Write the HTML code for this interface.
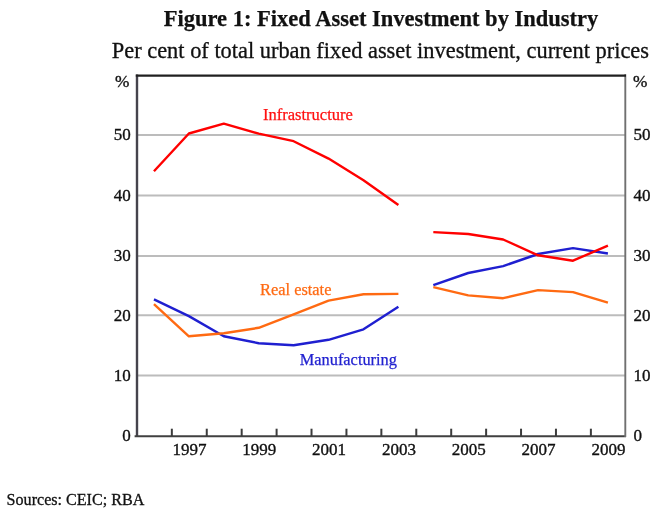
<!DOCTYPE html>
<html><head><meta charset="utf-8"><title>Figure 1: Fixed Asset Investment by Industry</title>
<style>
html,body{margin:0;padding:0;background:#fff;}
body{width:665px;height:516px;overflow:hidden;font-family:"Liberation Serif",serif;}
svg{display:block;filter:blur(0.45px);}
</style></head><body>
<svg width="665" height="516" viewBox="0 0 665 516">
<line x1="137" y1="134.9" x2="625" y2="134.9" stroke="#bcbcbc" stroke-width="2"/>
<line x1="137" y1="195.4" x2="625" y2="195.4" stroke="#bcbcbc" stroke-width="2"/>
<line x1="137" y1="255.9" x2="625" y2="255.9" stroke="#bcbcbc" stroke-width="2"/>
<line x1="137" y1="315.2" x2="625" y2="315.2" stroke="#bcbcbc" stroke-width="2"/>
<line x1="137" y1="375.6" x2="625" y2="375.6" stroke="#bcbcbc" stroke-width="2"/>
<line x1="137" y1="74.5" x2="137" y2="437" stroke="#45434c" stroke-width="2.4"/>
<line x1="134.6" y1="436.2" x2="626" y2="436.2" stroke="#404040" stroke-width="2.1"/>
<line x1="625.3" y1="74.3" x2="625.3" y2="437" stroke="#707070" stroke-width="1.9"/>
<line x1="135.8" y1="75.6" x2="626" y2="75.6" stroke="#202020" stroke-width="2.2"/>
<line x1="171.84" y1="428.7" x2="171.84" y2="436" stroke="#3c3c3c" stroke-width="2"/>
<line x1="206.76" y1="428.7" x2="206.76" y2="436" stroke="#3c3c3c" stroke-width="2"/>
<line x1="241.68" y1="428.7" x2="241.68" y2="436" stroke="#3c3c3c" stroke-width="2"/>
<line x1="276.60" y1="428.7" x2="276.60" y2="436" stroke="#3c3c3c" stroke-width="2"/>
<line x1="311.52" y1="428.7" x2="311.52" y2="436" stroke="#3c3c3c" stroke-width="2"/>
<line x1="346.44" y1="428.7" x2="346.44" y2="436" stroke="#3c3c3c" stroke-width="2"/>
<line x1="381.36" y1="428.7" x2="381.36" y2="436" stroke="#3c3c3c" stroke-width="2"/>
<line x1="416.28" y1="428.7" x2="416.28" y2="436" stroke="#3c3c3c" stroke-width="2"/>
<line x1="451.20" y1="428.7" x2="451.20" y2="436" stroke="#3c3c3c" stroke-width="2"/>
<line x1="486.12" y1="428.7" x2="486.12" y2="436" stroke="#3c3c3c" stroke-width="2"/>
<line x1="521.04" y1="428.7" x2="521.04" y2="436" stroke="#3c3c3c" stroke-width="2"/>
<line x1="555.96" y1="428.7" x2="555.96" y2="436" stroke="#3c3c3c" stroke-width="2"/>
<line x1="590.88" y1="428.7" x2="590.88" y2="436" stroke="#3c3c3c" stroke-width="2"/>
<polyline points="153.96,299.40 188.88,316.10 223.80,336.20 258.72,343.20 293.64,345.30 328.56,339.80 363.48,329.30 398.40,306.70" fill="none" stroke="#1f1fd0" stroke-width="2.4" stroke-linejoin="round" stroke-linecap="butt"/>
<polyline points="433.32,285.10 468.24,273.00 503.16,266.10 538.08,254.00 573.00,248.10 607.92,253.50" fill="none" stroke="#1f1fd0" stroke-width="2.4" stroke-linejoin="round" stroke-linecap="butt"/>
<polyline points="153.96,304.20 188.88,336.30 223.80,333.20 258.72,327.80 293.64,314.30 328.56,300.60 363.48,294.30 398.40,293.90" fill="none" stroke="#ff6a12" stroke-width="2.4" stroke-linejoin="round" stroke-linecap="butt"/>
<polyline points="433.32,287.20 468.24,295.40 503.16,298.20 538.08,290.10 573.00,292.10 607.92,302.70" fill="none" stroke="#ff6a12" stroke-width="2.4" stroke-linejoin="round" stroke-linecap="butt"/>
<polyline points="153.96,171.20 188.88,133.50 223.80,123.65 258.72,133.60 293.64,141.20 328.56,158.60 363.48,180.20 398.40,205.00" fill="none" stroke="#ff0000" stroke-width="2.4" stroke-linejoin="round" stroke-linecap="butt"/>
<polyline points="433.32,232.10 468.24,234.00 503.16,239.50 538.08,255.30 573.00,260.70 607.92,245.60" fill="none" stroke="#ff0000" stroke-width="2.4" stroke-linejoin="round" stroke-linecap="butt"/>
<text x="129.3" y="86.9" text-anchor="end" font-family="Liberation Serif" font-size="17.3" fill="#111" stroke="#111" stroke-width="0.35">%</text>
<text x="633" y="86.9" font-family="Liberation Serif" font-size="17.3" fill="#111" stroke="#111" stroke-width="0.35">%</text>
<text x="130.8" y="140.2" text-anchor="end" font-family="Liberation Serif" font-size="17" fill="#111" stroke="#111" stroke-width="0.35">50</text>
<text x="633.5" y="140.2" font-family="Liberation Serif" font-size="17" fill="#111" stroke="#111" stroke-width="0.35">50</text>
<text x="130.8" y="200.7" text-anchor="end" font-family="Liberation Serif" font-size="17" fill="#111" stroke="#111" stroke-width="0.35">40</text>
<text x="633.5" y="200.7" font-family="Liberation Serif" font-size="17" fill="#111" stroke="#111" stroke-width="0.35">40</text>
<text x="130.8" y="261.2" text-anchor="end" font-family="Liberation Serif" font-size="17" fill="#111" stroke="#111" stroke-width="0.35">30</text>
<text x="633.5" y="261.2" font-family="Liberation Serif" font-size="17" fill="#111" stroke="#111" stroke-width="0.35">30</text>
<text x="130.8" y="320.5" text-anchor="end" font-family="Liberation Serif" font-size="17" fill="#111" stroke="#111" stroke-width="0.35">20</text>
<text x="633.5" y="320.5" font-family="Liberation Serif" font-size="17" fill="#111" stroke="#111" stroke-width="0.35">20</text>
<text x="130.8" y="380.9" text-anchor="end" font-family="Liberation Serif" font-size="17" fill="#111" stroke="#111" stroke-width="0.35">10</text>
<text x="633.5" y="380.9" font-family="Liberation Serif" font-size="17" fill="#111" stroke="#111" stroke-width="0.35">10</text>
<text x="130.8" y="441.3" text-anchor="end" font-family="Liberation Serif" font-size="17" fill="#111" stroke="#111" stroke-width="0.35">0</text>
<text x="633.5" y="441.3" font-family="Liberation Serif" font-size="17" fill="#111" stroke="#111" stroke-width="0.35">0</text>
<text x="189.38" y="454.8" text-anchor="middle" font-family="Liberation Serif" font-size="17" fill="#111" stroke="#111" stroke-width="0.35">1997</text>
<text x="259.22" y="454.8" text-anchor="middle" font-family="Liberation Serif" font-size="17" fill="#111" stroke="#111" stroke-width="0.35">1999</text>
<text x="329.06" y="454.8" text-anchor="middle" font-family="Liberation Serif" font-size="17" fill="#111" stroke="#111" stroke-width="0.35">2001</text>
<text x="398.90" y="454.8" text-anchor="middle" font-family="Liberation Serif" font-size="17" fill="#111" stroke="#111" stroke-width="0.35">2003</text>
<text x="468.74" y="454.8" text-anchor="middle" font-family="Liberation Serif" font-size="17" fill="#111" stroke="#111" stroke-width="0.35">2005</text>
<text x="538.58" y="454.8" text-anchor="middle" font-family="Liberation Serif" font-size="17" fill="#111" stroke="#111" stroke-width="0.35">2007</text>
<text x="608.42" y="454.8" text-anchor="middle" font-family="Liberation Serif" font-size="17" fill="#111" stroke="#111" stroke-width="0.35">2009</text>
<text x="381" y="25.5" text-anchor="middle" font-family="Liberation Serif" font-weight="bold" font-size="22.5" fill="#111" stroke="#111" stroke-width="0.25">Figure 1: Fixed Asset Investment by Industry</text>
<text x="380.4" y="58.0" text-anchor="middle" font-family="Liberation Serif" font-size="22.4" fill="#111" stroke="#111" stroke-width="0.3">Per cent of total urban fixed asset investment, current prices</text>
<text x="263" y="120.0" font-family="Liberation Serif" font-size="16.5" fill="#ff1010" stroke="#ff1010" stroke-width="0.25">Infrastructure</text>
<text x="260" y="295.4" font-family="Liberation Serif" font-size="16.4" fill="#ff6a12" stroke="#ff6a12" stroke-width="0.25">Real estate</text>
<text x="299.8" y="365.4" font-family="Liberation Serif" font-size="16.35" fill="#2222d0" stroke="#2222d0" stroke-width="0.25">Manufacturing</text>
<text x="6.6" y="504.7" font-family="Liberation Serif" font-size="16.1" fill="#111" stroke="#111" stroke-width="0.3">Sources: CEIC; RBA</text>
</svg>
</body></html>
